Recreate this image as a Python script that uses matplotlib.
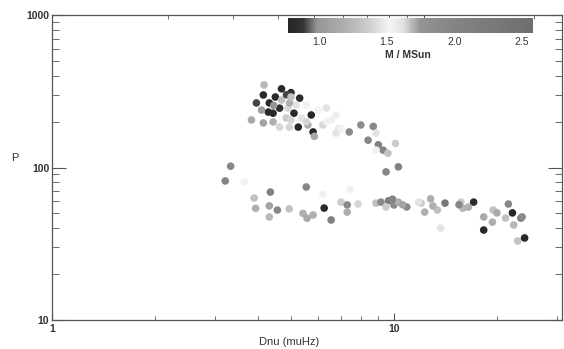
import matplotlib
matplotlib.use("Agg")
import matplotlib.pyplot as plt
import numpy as np
from matplotlib.colors import LinearSegmentedColormap
from matplotlib.ticker import LogLocator, NullFormatter, FixedLocator, FixedFormatter

plt.rcParams['font.family'] = ['Liberation Sans', 'DejaVu Sans']

# ---- data: Dnu (muHz), P, mass (M/MSun) ----
dnu_upper = [4.17, 4.69, 5.0, 4.15, 4.5, 5.3, 3.96, 4.32, 4.63, 4.29, 4.43, 5.1, 5.73,
             3.83, 4.15, 4.43, 4.84, 5.25, 5.6, 5.8, 5.85, 4.94, 6.34, 4.9, 4.63, 4.69,
             5.18, 5.54, 4.1, 5.0, 5.36, 6.0, 6.55, 6.9, 6.2, 4.85, 4.45, 4.95, 5.0,
             6.77, 7.4, 8.0, 8.7, 8.86, 8.4, 9.0, 9.3, 9.6, 10.1, 8.86, 9.48, 10.3,
             5.54, 6.34, 6.77, 7.0]
p_upper = [348, 328, 310, 299, 290, 285, 265, 265, 245, 231, 227, 227, 221,
           205, 196, 199, 211, 184, 190, 171, 160, 184, 245, 245, 184, 277,
           257, 257, 238, 205, 211, 238, 205, 180, 190, 300, 255, 265, 290,
           168, 171, 190, 186, 168, 151, 141, 130, 124, 144, 130, 93.6, 101,
           200, 200, 221, 180]
m_upper = [1.25, 0.8, 0.85, 0.8, 0.8, 0.82, 0.9, 0.8, 0.85, 0.8, 0.8, 0.8, 0.78,
           1.15, 1.1, 1.2, 1.35, 0.78, 1.2, 0.78, 1.15, 1.4, 1.45, 1.4, 1.4, 1.3,
           1.45, 1.5, 1.05, 1.4, 1.45, 1.5, 1.5, 1.45, 1.4, 0.9, 1.0, 1.2, 1.3,
           1.45, 1.9, 1.85, 1.95, 1.45, 1.95, 2.05, 2.0, 1.3, 1.35, 1.5, 1.95, 2.1,
           1.4, 1.5, 1.55, 1.5]

dnu_lower = [3.33, 3.21, 3.65, 3.90, 4.35, 3.94, 4.32, 4.56, 4.32, 4.94, 5.42, 5.57,
             5.80, 5.54, 6.2, 6.25, 6.55, 7.44, 7.0, 7.3, 7.3, 7.85, 8.86, 9.16, 9.64,
             10.0, 10.3, 10.9, 9.48, 12.0, 12.8, 12.3, 13.4, 13.7, 14.1, 15.7, 15.9,
             17.1, 16.5, 18.3, 18.3, 19.4, 19.5, 20.0, 21.2, 21.6, 22.2, 23.5, 22.4,
             23.0, 24.1, 23.7, 11.8, 15.5, 9.9, 10.6, 13.0]
p_lower = [102, 81.6, 80.5, 63, 69, 54, 56, 52.6, 47.4, 53.5, 50, 46.5,
           48.8, 74.5, 66.8, 54.2, 45.3, 72.1, 59.3, 56.8, 51, 57.6, 58.4, 59.3, 60.5,
           56.8, 59.3, 55.1, 55, 58.4, 62.3, 51, 52.6, 40, 58.4, 59.3, 54,
           59.3, 55, 47.4, 38.9, 43.8, 52.6, 50.4, 46.6, 57.6, 50.4, 46.6, 42,
           33, 34.5, 47.4, 59.3, 57, 62, 57, 56]
m_lower = [1.95, 2.0, 1.5, 1.3, 2.1, 1.2, 1.1, 1.95, 1.25, 1.3, 1.2, 1.15,
           1.2, 1.95, 1.5, 0.8, 2.1, 1.5, 1.35, 1.9, 1.2, 1.4, 1.3, 1.9, 2.2,
           1.9, 1.2, 1.9, 1.35, 1.35, 1.2, 1.2, 1.3, 1.45, 2.3, 1.35, 1.25,
           0.82, 1.2, 1.15, 0.8, 1.2, 1.3, 1.15, 1.3, 1.95, 0.78, 2.4, 1.25,
           1.3, 0.78, 1.9, 1.45, 1.95, 2.0, 1.1, 1.2]

dnu = np.array(dnu_upper + dnu_lower)
pval = np.array(p_upper + p_lower)
mass = np.array(m_upper + m_lower)

cb_ticks = [1.0, 1.5, 2.0, 2.5]
vmin, vmax = 0.77, 2.58

# custom grey colormap (dark -> light at 1.5 -> mid grey)
stops = [(0.77, '#262626'), (0.88, '#333333'), (0.98, '#959595'), (1.2, '#b0b0b0'),
         (1.38, '#d0d0d0'), (1.52, '#f6f6f6'), (1.62, '#e0e0e0'), (1.75, '#939393'),
         (2.0, '#848484'), (2.58, '#6e6e6e')]
cmap = LinearSegmentedColormap.from_list(
    'mgrey', [((v - vmin) / (vmax - vmin), c) for v, c in stops])

fig = plt.figure(figsize=(5.64, 3.49), dpi=100)
ax = fig.add_axes([52/564, 1-320/349, 510/564, 305/349])

ax.scatter(dnu, pval, c=mass, cmap=cmap, vmin=vmin, vmax=vmax, s=30,
           marker='o', edgecolors='none', zorder=3)

ax.set_xscale('log')
ax.set_yscale('log')
ax.set_xlim(1, 31)
ax.set_ylim(10, 1000)

axis_col = '#555555'
for sp in ax.spines.values():
    sp.set_color(axis_col)
    sp.set_linewidth(0.9)

ax.xaxis.set_major_locator(FixedLocator([1, 10]))
ax.xaxis.set_major_formatter(FixedFormatter(['1', '10']))
ax.xaxis.set_minor_locator(LogLocator(base=10, subs=np.arange(2, 10)))
ax.xaxis.set_minor_formatter(NullFormatter())
ax.yaxis.set_major_locator(FixedLocator([10, 100, 1000]))
ax.yaxis.set_major_formatter(FixedFormatter(['10', '100', '1000']))
ax.yaxis.set_minor_locator(LogLocator(base=10, subs=np.arange(2, 10)))
ax.yaxis.set_minor_formatter(NullFormatter())

ax.tick_params(axis='both', which='both', direction='in', colors=axis_col,
               labelcolor='#333333', labelsize=7.5)
ax.tick_params(axis='x', which='major', length=5, pad=3, top=False)
ax.tick_params(axis='x', which='minor', length=3, top=False)
ax.tick_params(axis='y', which='major', length=10, pad=2, right=True)
ax.tick_params(axis='y', which='minor', length=5, right=True)
for lbl in ax.get_xticklabels() + ax.get_yticklabels():
    lbl.set_fontweight('bold')

# top axis: independent log tick scale (ticks only)
def _fwd(x):
    x = np.clip(x, 1e-6, None)
    return 10 ** (1 + (341 * np.log10(x) - 371) / 365)

def _inv(t):
    t = np.clip(t, 1e-6, None)
    return 10 ** ((365 * (np.log10(t) - 1) + 371) / 341)

top = ax.secondary_xaxis('top', functions=(_fwd, _inv))
top.set_xscale('log')
top.xaxis.set_major_locator(FixedLocator([10]))
top.xaxis.set_minor_locator(LogLocator(base=10, subs=np.arange(2, 10)))
top.xaxis.set_major_formatter(NullFormatter())
top.xaxis.set_minor_formatter(NullFormatter())
top.tick_params(which='both', direction='in', length=3, colors=axis_col)
top.spines['top'].set_visible(False)

fig.text(15/564, 1-158/349, 'P', fontsize=8, color='#333333', ha='center', va='center')
fig.text(289/564, 1-342/349, 'Dnu (muHz)', fontsize=8, color='#333333',
         ha='center', va='center')

# colourbar inside the top of the plot
cax = fig.add_axes([288/564, 1-33/349, 245/564, 15/349])
norm = matplotlib.colors.Normalize(vmin=vmin, vmax=vmax)
sm = matplotlib.cm.ScalarMappable(norm=norm, cmap=cmap)
cb = fig.colorbar(sm, cax=cax, orientation='horizontal', ticks=cb_ticks)
cb.outline.set_visible(False)
cb.ax.tick_params(length=0, labelsize=7.5, labelcolor='#333333', pad=3)
cb.ax.set_xticklabels(['1.0', '1.5', '2.0', '2.5'])
fig.text(408/564, 1-55/349, 'M / MSun', fontsize=7.5, color='#333333',
         ha='center', va='center', fontweight='bold')

fig.savefig('out.png', dpi=100)
